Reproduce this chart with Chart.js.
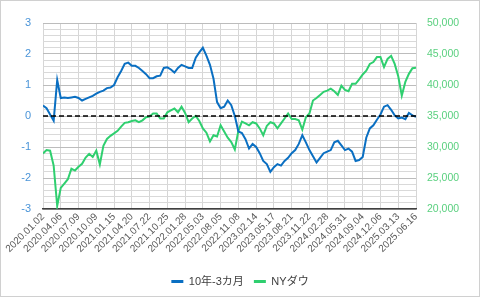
<!DOCTYPE html>
<html>
<head>
<meta charset="utf-8">
<script src="https://cdn.jsdelivr.net/npm/chart.js@4/dist/chart.umd.min.js"></script>
<style>
  html, body { margin: 0; padding: 0; background: #fff; }
</style>
</head>
<body>
<canvas id="chart" width="480" height="297"></canvas>
<script>
// x-axis labels, one every 5 data points
const tickLabels = [
  "2020.01.02", "2020.04.06", "2020.07.09", "2020.10.09", "2021.01.15", "2021.04.20",
  "2021.07.22", "2021.10.25", "2022.01.28", "2022.05.03", "2022.08.05", "2022.11.08",
  "2023.02.14", "2023.05.17", "2023.08.21", "2023.11.22", "2024.02.28", "2024.05.31",
  "2024.09.04", "2024.12.06", "2025.03.13", "2025.06.16"
];
const pointsPerTick = 5;

// 10年-3カ月 (left axis)
const spread = [
  0.34, 0.25, 0.05, -0.15, 1.16,
  0.58, 0.6, 0.58, 0.6, 0.62,
  0.58, 0.5, 0.55, 0.6, 0.65,
  0.72, 0.78, 0.82, 0.9, 0.92,
  1.0, 1.25, 1.45, 1.68, 1.72,
  1.62, 1.62, 1.55, 1.45, 1.35,
  1.22, 1.22, 1.28, 1.3, 1.55,
  1.57, 1.5, 1.4, 1.55, 1.65,
  1.6, 1.55, 1.55, 1.88, 2.05,
  2.2, 1.95, 1.65, 1.2, 0.45,
  0.25, 0.3, 0.5, 0.35, 0.0,
  -0.5, -0.55, -0.75, -1.05, -0.9,
  -1.0, -1.2, -1.45, -1.55, -1.8,
  -1.65, -1.55, -1.6, -1.45, -1.35,
  -1.2, -1.1, -0.9, -0.62, -0.85,
  -1.1, -1.3, -1.5, -1.35, -1.2,
  -1.15, -1.1, -0.85, -0.8, -0.95,
  -1.1, -1.05, -1.15, -1.45, -1.42,
  -1.32, -0.7, -0.4, -0.3, -0.12,
  0.05, 0.3, 0.35, 0.2, 0.02,
  -0.08, -0.05, -0.1, 0.1, 0.02,
  -0.03
];

// NYダウ (right axis)
const dow = [
  28960, 29500, 29400, 27000, 20500,
  23400, 24100, 24800, 26500, 26200,
  26800, 27300, 28300, 28900, 28400,
  29400, 27200, 30200, 31300, 31800,
  32200, 32600, 33300, 33900, 34000,
  34200, 34300, 34000, 34300, 34800,
  34900, 35400, 35400, 34600, 34600,
  35600, 35900, 36200, 35600, 36500,
  35500, 34000, 34600, 35000, 34200,
  33000, 32300, 30900, 31900, 31700,
  33500, 32500, 31500, 30800, 29600,
  32600, 34100, 33800, 33500, 34000,
  33800, 33000, 31900, 33400, 34000,
  33800, 33000, 33800, 34600, 35400,
  34500, 34500, 34300, 32800, 34800,
  35400, 37500, 37900, 38400, 38900,
  39100, 39400, 39000, 38400, 39900,
  39200, 39000, 40200, 40200, 40900,
  41700, 42300, 43400, 43700, 44500,
  44500, 42900, 44200, 44700, 43400,
  41400, 38300, 40500, 41800, 42700,
  42800
];

const lastX = tickLabels.length - 1;
const toPoints = (arr) => arr.map((v, i) => ({ x: i / pointsPerTick, y: v }));

const font = '"Liberation Sans", Arial, "Noto Sans CJK JP", sans-serif';
const isWhole = (v) => Math.abs(v - Math.round(v)) < 1e-6;

const frame = {
  id: "frame",
  afterDraw(chart) {
    const ctx = chart.ctx;
    ctx.save();
    ctx.strokeStyle = "#d0d0d0";
    ctx.lineWidth = 1;
    ctx.strokeRect(0.5, 0.5, chart.width - 1, chart.height - 1);
    ctx.restore();
  }
};

new Chart(document.getElementById("chart"), {
  type: "line",
  data: {
    datasets: [
      {
        label: "zero",
        data: [{ x: 0, y: 0 }, { x: lastX, y: 0 }],
        yAxisID: "y",
        borderColor: "#000",
        borderWidth: 1.5,
        borderDash: [5, 3],
        pointRadius: 0,
        order: 0
      },
      {
        label: "10年-3カ月",
        data: toPoints(spread),
        yAxisID: "y",
        borderColor: "#0a6fc2",
        backgroundColor: "#0a6fc2",
        borderWidth: 2,
        pointRadius: 0,
        order: 1
      },
      {
        label: "NYダウ",
        data: toPoints(dow),
        yAxisID: "y2",
        borderColor: "#2fcf6f",
        backgroundColor: "#2fcf6f",
        borderWidth: 2,
        pointRadius: 0,
        order: 2
      }
    ]
  },
  options: {
    responsive: false,
    animation: false,
    layout: { padding: { top: 23, bottom: 0, left: 0, right: 0 } },
    plugins: {
      tooltip: { enabled: false },
      legend: {
        position: "bottom",
        labels: {
          filter: (item) => item.text !== "zero",
          boxWidth: 12,
          boxHeight: 3,
          color: "#404040",
          font: { family: font, size: 11 },
          generateLabels(chart) {
            return Chart.defaults.plugins.legend.labels.generateLabels(chart).map((l) => ({
              ...l, lineWidth: 0, fillStyle: l.strokeStyle
            }));
          }
        }
      }
    },
    scales: {
      x: {
        type: "linear",
        min: 0,
        max: lastX,
        afterFit: (s) => { s.height = 57; },
        ticks: {
          stepSize: 1,
          autoSkip: false,
          maxTicksLimit: 100,
          maxRotation: 45,
          minRotation: 45,
          padding: 2,
          color: "#595959",
          font: { family: font, size: 10 },
          callback: (v) => tickLabels[v]
        },
        grid: { color: "#d6d6d6", drawTicks: false },
        border: { color: "#404040", width: 1.5 }
      },
      y: {
        position: "left",
        min: -3,
        max: 3,
        afterFit: (s) => { s.width = 43; },
        ticks: {
          stepSize: 0.2,
          autoSkip: false,
          maxTicksLimit: 100,
          padding: 12,
          color: "#4a94d8",
          font: { family: font, size: 11 },
          callback: (v) => (isWhole(v) ? Math.round(v) : "")
        },
        grid: {
          drawTicks: false,
          color: (c) => (isWhole(c.tick.value) ? "#bcbcbc" : "#d9d9d9")
        },
        border: { display: false }
      },
      y2: {
        position: "right",
        min: 20000,
        max: 50000,
        afterFit: (s) => { s.width = 64; },
        ticks: {
          stepSize: 5000,
          padding: 11,
          color: "#5ad07f",
          font: { family: font, size: 10.5 },
          callback: (v) => v.toLocaleString("en-US")
        },
        grid: { drawOnChartArea: false, drawTicks: false },
        border: { display: false }
      }
    }
  },
  plugins: [frame]
});
</script>
</body>
</html>
